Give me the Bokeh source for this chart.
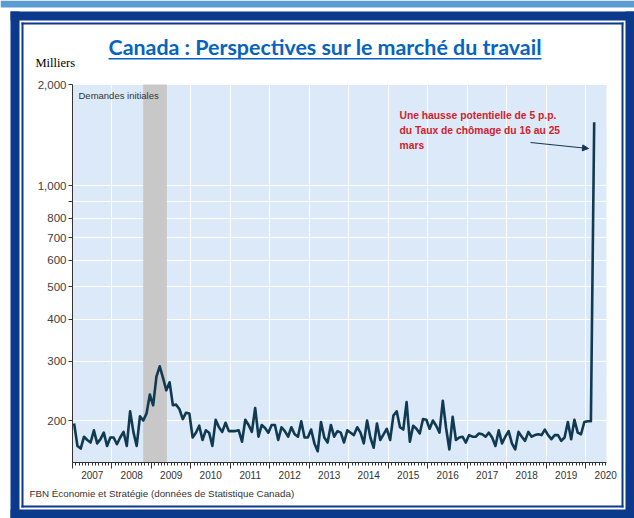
import math
from bokeh.plotting import figure
from bokeh.models import (FixedTicker, BoxAnnotation, Label, LabelSet, ColumnDataSource,
                          Arrow, NormalHead, Range1d, CustomJSTickFormatter)
from bokeh.core.properties import value
from bokeh.embed import file_html
from bokeh.resources import INLINE

# ---------------- data (thousands, monthly from Jan 2007 to Mar 2020) ----------------
start_year = 2007
claims = [
    196, 168, 165, 179, 175, 172, 187, 171, 176, 184, 168, 178,   # 2007
    178, 170, 178, 185, 168, 213, 185, 168, 206, 200, 210, 239,   # 2008
    222, 270, 290, 268, 246, 260, 222, 223, 216, 202, 211, 210,   # 2009
    178, 184, 193, 175, 187, 184, 168, 201, 191, 185, 197, 186,   # 2010
    186, 186, 187, 173, 201, 194, 185, 218, 179, 194, 190, 184,   # 2011
    194, 194, 175, 191, 186, 179, 191, 182, 179, 199, 178, 178,   # 2012
    188, 171, 162, 198, 178, 172, 194, 179, 186, 184, 172, 187,   # 2013
    184, 181, 191, 184, 171, 200, 178, 166, 196, 175, 182, 189,   # 2014
    175, 207, 213, 191, 188, 227, 173, 193, 189, 183, 202, 201,   # 2015
    189, 200, 193, 184, 229, 190, 164, 205, 175, 178, 179, 172,   # 2016
    181, 179, 179, 183, 182, 179, 184, 178, 168, 187, 171, 179,   # 2017
    186, 171, 164, 185, 179, 174, 185, 179, 181, 182, 181, 188,   # 2018
    181, 176, 181, 181, 174, 178, 198, 176, 201, 184, 182, 198,   # 2019
    199, 199, 1545,                                              # 2020
]
years = list(range(2007, 2021))
year_labels = [str(y) for y in years]
y_ticks = [200, 300, 400, 500, 600, 700, 800, 900, 1000, 2000]
y_tick_labels = ["200", "300", "400", "500", "600", "700", "800", "", "1,000", "2,000"]
recession_start, recession_end = 2008.79, 2009.39
Y_MIN, Y_MAX = 150, 2000
X_MIN, X_MAX = 2007.0, 2020.52

title_text = "Canada : Perspectives sur le marché du travail"
unit_text = "Milliers"
series_text = "Demandes initiales"
note_lines = ["Une hausse potentielle de 5 p.p.",
              "du Taux de chômage du 16 au 25",
              "mars"]
source_text = "FBN Économie et Stratégie (données de Statistique Canada)"

dates = [start_year + (i + 0.5) / 12 for i in range(len(claims))]
month_ticks = [start_year + k / 12 for k in range(int((X_MAX - start_year) * 12) + 1)]

# ---------------- layout geometry (page pixels) ----------------
W, H = 634, 518
PAGE_L, PAGE_T = 0, 0                      # canvas origin on the page
CH_L, CH_R, CH_T, CH_B = 72, 606, 84, 462  # chart area on the page
NAVY = "#0b3a8c"
SANS = "Liberation Sans"

px_per_year = (CH_R - CH_L) / (X_MAX - X_MIN)
x_start = X_MIN - (CH_L - PAGE_L) / px_per_year
x_end = X_MAX + (PAGE_L + W - CH_R) / px_per_year
px_per_dec = (CH_B - CH_T) / math.log10(Y_MAX / Y_MIN)
y_start = Y_MIN / 10 ** ((PAGE_T + H - CH_B) / px_per_dec)
y_end = Y_MAX * 10 ** ((CH_T - PAGE_T) / px_per_dec)


def X(px):  # page x -> screen x (frame == canvas)
    return px - PAGE_L


def Y(py):  # page y -> screen y measured upwards
    return PAGE_T + H - py


p = figure(width=W, height=H, x_range=Range1d(x_start, x_end), y_range=Range1d(y_start, y_end),
           y_axis_type="log", output_backend="svg", toolbar_location=None,
           min_border=0, min_border_left=0, min_border_right=0,
           min_border_top=0, min_border_bottom=0)
p.title.visible = False
p.background_fill_color = "white"
p.border_fill_color = "white"
p.outline_line_color = None

# light-blue chart background
p.add_layout(BoxAnnotation(left=X_MIN, right=X_MAX, bottom=Y_MIN, top=Y_MAX,
                           fill_color="#dce9f8", fill_alpha=1, line_color=None, level="image"))

p.xgrid.grid_line_color = "white"
p.ygrid.grid_line_color = "white"
p.xgrid.grid_line_width = 1
p.ygrid.grid_line_width = 1
p.xgrid.bounds = (Y_MIN, Y_MAX)
p.ygrid.bounds = (X_MIN, X_MAX)

# y axis
p.yaxis.fixed_location = X_MIN
p.yaxis.bounds = (Y_MIN, Y_MAX)
p.yaxis.ticker = FixedTicker(ticks=y_ticks, minor_ticks=[])
p.yaxis.major_label_overrides = {t: l for t, l in zip(y_ticks, y_tick_labels)}
p.yaxis.axis_line_color = "#333333"
p.yaxis.major_tick_line_color = "#333333"
p.yaxis.major_tick_out = 4
p.yaxis.major_tick_in = 0
p.yaxis.minor_tick_line_color = None
p.yaxis.major_label_text_font = SANS
p.yaxis.major_label_text_font_size = "11.5px"
p.yaxis.major_label_text_color = "#404040"
p.yaxis.major_label_standoff = 2

# x axis
p.xaxis.fixed_location = Y_MIN
p.xaxis.bounds = (X_MIN, X_MAX)
p.xaxis.ticker = FixedTicker(ticks=years, minor_ticks=month_ticks)
p.xaxis.formatter = CustomJSTickFormatter(code="return '';")
p.xaxis.axis_line_color = "#333333"
p.xaxis.major_tick_line_color = "#333333"
p.xaxis.minor_tick_line_color = "#333333"
p.xaxis.major_tick_out = 6
p.xaxis.major_tick_in = 0
p.xaxis.minor_tick_out = 3
p.xaxis.minor_tick_in = 0

# recession band and series
p.quad(left=[recession_start], right=[recession_end], bottom=[Y_MIN], top=[Y_MAX],
       fill_color="#c8c8c8", line_color=None)
p.line(dates, claims, line_color="#0f3a52", line_width=2.6, line_join="round")

# year labels centred in each year
ysrc = ColumnDataSource(dict(x=[y + 0.5 for y in years], text=year_labels))
p.add_layout(LabelSet(x="x", y=Y(474), y_units="screen", text="text", source=ysrc,
                      text_align="center", text_baseline="middle",
                      text_font=value(SANS), text_font_size="10px", text_color="#333333"))


# ---------------- decorations ----------------
def box(l, r, t, b, color):
    p.add_layout(BoxAnnotation(left=X(l), right=X(r), top=Y(t), bottom=Y(b),
                               left_units="screen", right_units="screen",
                               top_units="screen", bottom_units="screen",
                               fill_color=color, fill_alpha=1, line_color=None,
                               level="overlay"))


# light-blue band across the top
box(0, 634, 0, 7, "#5b9bd5")
# outer thick frame
box(10, 634, 11, 20, NAVY)      # top
box(10, 19, 11, 518, NAVY)      # left
box(625, 634, 11, 518, NAVY)    # right
box(10, 634, 509, 518, NAVY)    # bottom
# inner thin frame
box(21, 623, 22, 24, NAVY)
box(21, 23, 22, 507, NAVY)
box(621, 623, 22, 507, NAVY)
box(21, 623, 505, 507, NAVY)

# title + underline
p.add_layout(Label(x=X(108), y=Y(46), x_units="screen", y_units="screen", text=title_text,
                   text_font="Lato", text_font_style="bold", text_font_size="21.4px",
                   text_color="#0563c1", text_baseline="middle"))
box(108, 541, 57.5, 59, "#0563c1")

p.add_layout(Label(x=X(35), y=Y(62), x_units="screen", y_units="screen", text=unit_text,
                   text_font="Liberation Serif", text_font_size="12.5px",
                   text_color="#000000", text_baseline="middle"))

p.add_layout(Label(x=X(78), y=Y(95), x_units="screen", y_units="screen", text=series_text,
                   text_font=SANS, text_font_size="9.5px",
                   text_color="#333333", text_baseline="middle"))

for i, line in enumerate(note_lines):
    p.add_layout(Label(x=X(399), y=Y(115 + 15 * i), x_units="screen", y_units="screen", text=line,
                       text_font=SANS, text_font_style="bold", text_font_size="10.3px",
                       text_color="#d0222d", text_baseline="middle"))

p.add_layout(Arrow(x_start=X(530), y_start=Y(142), x_end=X(588), y_end=Y(148),
                   start_units="screen", end_units="screen",
                   line_color="#1a3550", line_width=1.2,
                   end=NormalHead(size=6, fill_color="#1a3550", line_color="#1a3550")))

p.add_layout(Label(x=X(29), y=Y(493), x_units="screen", y_units="screen", text=source_text,
                   text_font=SANS, text_font_size="9.8px",
                   text_color="#333333", text_baseline="middle"))

open("out.html", "w").write(file_html(p, INLINE))
